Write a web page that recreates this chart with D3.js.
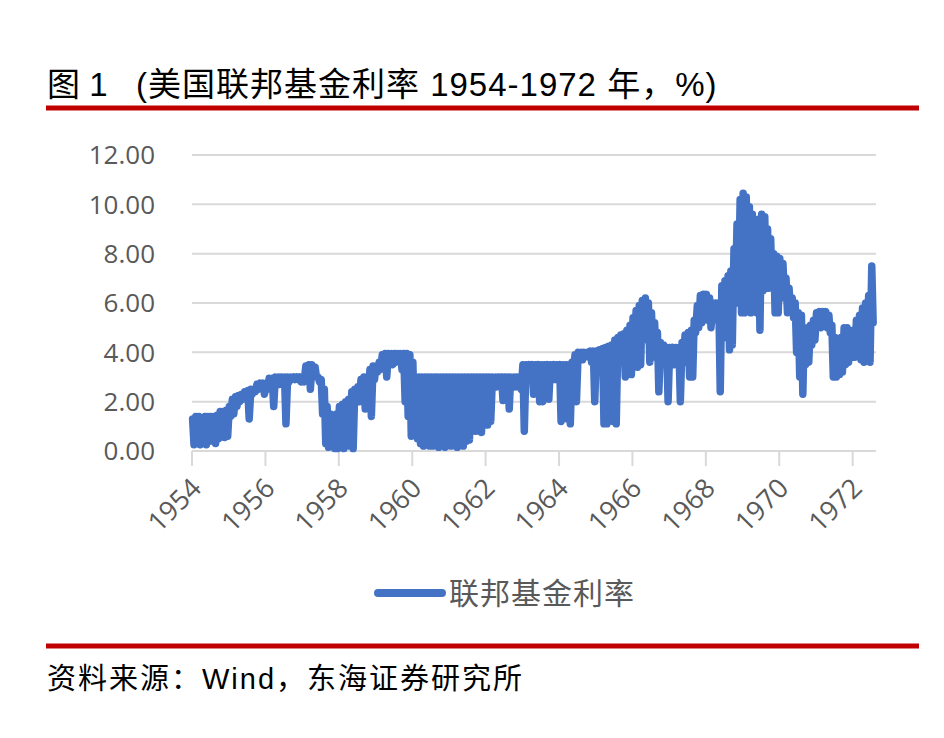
<!DOCTYPE html>
<html>
<head>
<meta charset="utf-8">
<script src="https://cdn.jsdelivr.net/npm/d3@7"></script>
<style>
body { margin: 0; background: #fff; }
</style>
</head>
<body>
<div id="chart"></div>
<script>
// monthly daily-range of the fed funds rate, first month = Jul 1954
var startMonth = "1954-07";
var fedHigh = [
  1.3,1.4,1.4,1.3,1.4,1.4,
  1.4,1.4,1.45,1.6,1.6,1.65,1.8,2.1,2.2,2.25,2.3,2.4,
  2.45,2.5,2.5,2.7,2.75,2.75,2.75,2.95,2.95,3.0,3.0,3.0,
  3.0,3.0,3.0,3.0,3.0,3.0,3.0,3.45,3.5,3.5,3.4,3.0,
  2.9,2.5,1.8,1.5,1.2,1.5,1.8,1.9,2.0,2.1,2.4,2.5,
  2.6,2.9,3.0,3.0,3.3,3.45,3.45,3.6,3.9,3.95,3.95,3.95,
  3.95,3.95,3.95,3.95,3.95,3.9,3.6,3.0,3.0,3.0,3.0,3.0,
  3.0,3.0,3.0,3.0,3.0,3.0,3.0,3.0,3.0,3.0,3.0,3.0,
  3.0,3.0,3.0,3.0,3.0,3.0,3.0,3.0,3.0,3.0,3.0,3.0,
  3.0,3.0,3.0,3.0,3.0,3.0,3.5,3.5,3.5,3.5,3.5,3.5,
  3.5,3.5,3.5,3.5,3.5,3.5,3.5,3.5,3.5,3.5,3.6,3.9,
  4.0,4.0,4.0,4.0,4.05,4.05,4.05,4.1,4.15,4.2,4.25,4.3,
  4.5,4.6,4.7,4.75,4.9,5.1,5.4,5.7,5.9,6.1,6.2,6.0,
  5.6,5.2,4.8,4.4,4.3,4.2,4.2,4.2,4.2,4.2,4.4,4.7,
  4.8,4.9,5.3,5.9,6.3,6.35,6.35,6.2,6.0,6.0,6.0,6.7,
  6.9,7.1,7.3,8.2,9.2,10.2,10.45,10.3,9.9,9.6,9.3,9.4,
  9.6,9.5,9.0,8.6,8.0,7.9,7.8,7.6,7.0,6.6,6.2,6.0,
  5.6,5.5,5.0,5.0,5.1,5.3,5.6,5.65,5.65,5.65,5.5,5.1,
  4.6,4.5,4.6,5.0,5.0,4.8,4.9,5.3,5.5,5.8,6.0,6.3,
  7.5
];
var fedLow = [
  0.25,0.5,0.25,0.3,0.25,0.4,
  0.4,0.3,0.5,0.6,0.55,0.6,1.4,1.5,1.8,2.0,2.1,2.2,
  1.3,2.3,2.4,2.5,2.6,2.3,2.5,2.7,1.8,2.8,2.7,2.8,
  1.1,2.8,2.9,2.9,2.9,2.8,2.8,3.0,2.5,3.3,3.0,2.8,
  1.5,0.3,0.15,0.2,0.1,0.1,0.2,0.1,0.4,0.2,0.1,2.0,
  2.0,2.0,1.7,2.5,1.4,2.9,3.2,3.3,3.5,3.0,3.7,3.5,
  3.6,3.7,3.3,2.0,1.4,0.6,1.2,0.5,0.3,0.2,0.4,0.2,
  0.2,0.5,0.15,0.3,0.15,0.4,0.2,0.3,0.15,0.5,0.2,0.4,
  0.45,1.5,0.8,2.0,0.75,2.2,1.05,1.2,2.8,2.6,2.7,2.05,
  2.3,1.7,2.8,2.6,2.9,2.5,0.8,3.2,3.3,2.3,3.2,2.0,
  2.0,3.3,2.1,3.4,2.9,3.3,1.2,3.0,1.3,1.1,3.3,2.0,
  3.8,3.7,3.9,3.8,3.6,2.0,3.8,3.9,1.1,1.1,3.5,1.2,
  1.1,4.2,4.3,3.0,3.2,3.1,4.4,3.4,3.5,4.5,4.9,3.6,
  4.0,3.8,2.4,3.8,3.7,2.0,3.8,3.5,3.6,2.0,3.8,3.6,
  3.0,3.0,4.8,5.0,5.2,5.5,5.3,5.0,5.4,5.3,2.4,5.3,
  4.6,4.1,4.3,6.0,6.0,5.6,5.6,5.7,5.6,5.8,5.6,4.9,
  6.5,6.6,6.6,6.6,5.6,5.6,6.2,6.4,5.6,5.7,5.4,4.0,
  3.0,2.3,3.5,3.6,4.3,4.5,5.0,5.0,5.1,5.0,4.8,3.0,
  3.0,3.1,3.2,3.5,3.6,3.8,3.8,3.9,3.7,3.6,4.3,3.6,
  5.2
];
var yTicks = [0, 2, 4, 6, 8, 10, 12];
var xTickYears = [1954, 1956, 1958, 1960, 1962, 1964, 1966, 1968, 1970, 1972];
var seriesName = "联邦基金利率";
var titleNo = "图 1";
var titleText = "(美国联邦基金利率 1954-1972 年，%)";
var sourceText = "资料来源：Wind，东海证券研究所";

var w = 944, h = 738;
var cjk = "'Liberation Sans', 'Noto Sans CJK SC', sans-serif";
var tickFont = "'Open Sans', 'Noto Sans CJK SC', sans-serif";

var svg = d3.select("#chart")
  .append("svg")
  .attr("width", w)
  .attr("height", h)
  .style("background", "#fff");

// build the points: high then low inside every month
var parseMonth = d3.timeParse("%Y-%m");
var m0 = parseMonth(startMonth);
var points = [];
fedHigh.forEach(function(v, i) {
  var m = d3.timeMonth.offset(m0, i);
  points.push({date: d3.timeDay.offset(m, 6), v: v});
  points.push({date: d3.timeDay.offset(m, 20), v: fedLow[i]});
});

var x = d3.scaleTime()
  .domain([new Date(1954, 6, 1), new Date(1973, 2, 20)])
  .range([192, 879]);
var y = d3.scaleLinear()
  .domain([0, 12])
  .range([451, 155]);

// gridlines
svg.append("g")
  .selectAll("line")
  .data(yTicks)
  .enter()
  .append("line")
  .attr("x1", 192)
  .attr("x2", 876)
  .attr("y1", function(d) { return y(d); })
  .attr("y2", function(d) { return y(d); })
  .style("stroke", "#d9d9d9")
  .style("stroke-width", 2);

svg.append("g")
  .selectAll("text")
  .data(yTicks)
  .enter()
  .append("text")
  .attr("x", 155)
  .attr("y", function(d) { return y(d); })
  .attr("dy", "0.36em")
  .attr("text-anchor", "end")
  .style("font-family", tickFont)
  .style("font-size", "26px")
  .style("fill", "#595959")
  .text(function(d) { return d3.format(".2f")(d); });

// x axis ticks + rotated labels
var xTicks = xTickYears.map(function(yr) { return new Date(yr, 6, 1); });
svg.append("g")
  .selectAll("line")
  .data(xTicks)
  .enter()
  .append("line")
  .attr("x1", function(d) { return x(d); })
  .attr("x2", function(d) { return x(d); })
  .attr("y1", 451)
  .attr("y2", 466)
  .style("stroke", "#d9d9d9")
  .style("stroke-width", 2);

svg.append("g")
  .selectAll("text")
  .data(xTicks)
  .enter()
  .append("text")
  .attr("transform", function(d) { return "translate(" + (x(d) + 4) + ",483) rotate(-45)"; })
  .attr("dy", "0.36em")
  .attr("text-anchor", "end")
  .style("font-family", tickFont)
  .style("font-size", "27px")
  .style("fill", "#595959")
  .text(function(d, i) { return xTickYears[i]; });

// the series
var line = d3.line()
  .x(function(d) { return x(d.date); })
  .y(function(d) { return y(d.v); });

svg.append("path")
  .datum(points)
  .attr("d", line)
  .style("fill", "none")
  .style("stroke", "#4472c4")
  .style("stroke-width", 7.5)
  .style("stroke-linejoin", "round")
  .style("stroke-linecap", "round");

// legend
svg.append("line")
  .attr("x1", 378).attr("x2", 442)
  .attr("y1", 593).attr("y2", 593)
  .style("stroke", "#4472c4")
  .style("stroke-width", 8)
  .style("stroke-linecap", "round");
svg.append("text")
  .attr("x", 449)
  .attr("y", 604)
  .style("font-family", cjk)
  .style("font-size", "30px")
  .style("letter-spacing", "1px")
  .style("fill", "#595959")
  .text(seriesName);

// title, rules, source
svg.append("text")
  .attr("x", 47).attr("y", 96)
  .style("font-family", cjk)
  .style("font-size", "33px")
  .style("fill", "#000")
  .text(titleNo);
svg.append("text")
  .attr("x", 136).attr("y", 96)
  .style("font-family", cjk)
  .style("font-size", "33px")
  .style("letter-spacing", "1px")
  .style("fill", "#000")
  .text(titleText);

svg.selectAll("rect.rule")
  .data([108, 646])
  .enter()
  .append("rect")
  .attr("class", "rule")
  .attr("x", 46)
  .attr("y", function(d) { return d - 2.5; })
  .attr("width", 873)
  .attr("height", 5)
  .style("fill", "#c00000");

svg.append("text")
  .attr("x", 47).attr("y", 689)
  .style("font-family", cjk)
  .style("font-size", "29px")
  .style("letter-spacing", "2px")
  .style("fill", "#000")
  .text(sourceText);
</script>
</body>
</html>
